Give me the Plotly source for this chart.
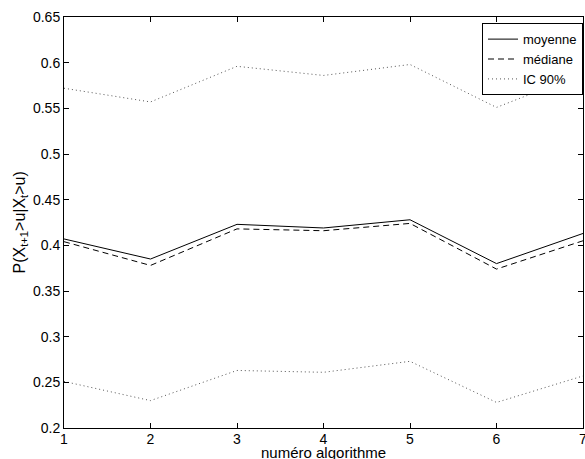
import plotly.graph_objects as go

algos = [1, 2, 3, 4, 5, 6, 7]
moyenne = [0.407, 0.385, 0.423, 0.419, 0.428, 0.380, 0.413]
mediane = [0.404, 0.378, 0.418, 0.416, 0.424, 0.374, 0.405]
ic_haut = [0.572, 0.557, 0.596, 0.586, 0.598, 0.551, 0.588]
ic_bas = [0.251, 0.230, 0.263, 0.261, 0.273, 0.228, 0.257]
y_ticks = [0.2, 0.25, 0.3, 0.35, 0.4, 0.45, 0.5, 0.55, 0.6, 0.65]
y_labels = ["0.2", "0.25", "0.3", "0.35", "0.4", "0.45", "0.5", "0.55", "0.6", "0.65"]

FONT = "Liberation Sans, Arial, Helvetica, sans-serif"

fig = go.Figure()
fig.add_trace(go.Scatter(x=algos, y=moyenne, mode="lines", name="moyenne",
                         line=dict(color="black", width=1)))
fig.add_trace(go.Scatter(x=algos, y=mediane, mode="lines", name="médiane",
                         line=dict(color="black", width=1, dash="6px,4px")))
fig.add_trace(go.Scatter(x=algos, y=ic_haut, mode="lines", name="IC 90%",
                         legendgroup="ic",
                         line=dict(color="#555555", width=1, dash="1px,3px")))
fig.add_trace(go.Scatter(x=algos, y=ic_bas, mode="lines", name="IC 90%",
                         legendgroup="ic", showlegend=False,
                         line=dict(color="#555555", width=1, dash="1px,3px")))

axis_common = dict(showgrid=False, zeroline=False, ticks="inside", ticklen=5,
                   tickcolor="black", showline=True, linecolor="black",
                   linewidth=1, mirror="ticks", automargin=False,
                   ticklabeloverflow="allow",
                   tickfont=dict(family=FONT, size=14, color="black"))

fig.update_layout(
    width=585, height=459,
    margin=dict(l=64, r=2, t=17, b=31),
    paper_bgcolor="white", plot_bgcolor="white",
    font=dict(family=FONT, size=14, color="black"),
    xaxis=dict(range=[1, 7], tickmode="array", tickvals=algos,
               ticklabelstandoff=-2, **axis_common),
    yaxis=dict(range=[0.2, 0.65], tickmode="array", tickvals=y_ticks,
               ticktext=y_labels, **axis_common),
    legend=dict(x=1, y=0.985, xanchor="right", yanchor="top",
                bgcolor="white", bordercolor="black", borderwidth=1,
                font=dict(family=FONT, size=13), tracegroupgap=0, itemwidth=30),
    showlegend=True,
    annotations=[
        dict(text="numéro algorithme", xref="paper", yref="paper",
             x=0.5, y=0, xanchor="center", yanchor="middle", yshift=-24,
             showarrow=False, font=dict(family=FONT, size=15)),
        dict(text="P(X<sub>t+1</sub>>u|X<sub>t</sub>>u)", xref="paper", yref="paper",
             x=0, y=0.5, xanchor="center", yanchor="middle", xshift=-44,
             textangle=-90, showarrow=False, font=dict(family=FONT, size=16)),
    ],
)

fig.write_html("out.html", config={"displayModeBar": False},
               post_script="document.body.style.margin='0';document.body.style.overflow='hidden';")
